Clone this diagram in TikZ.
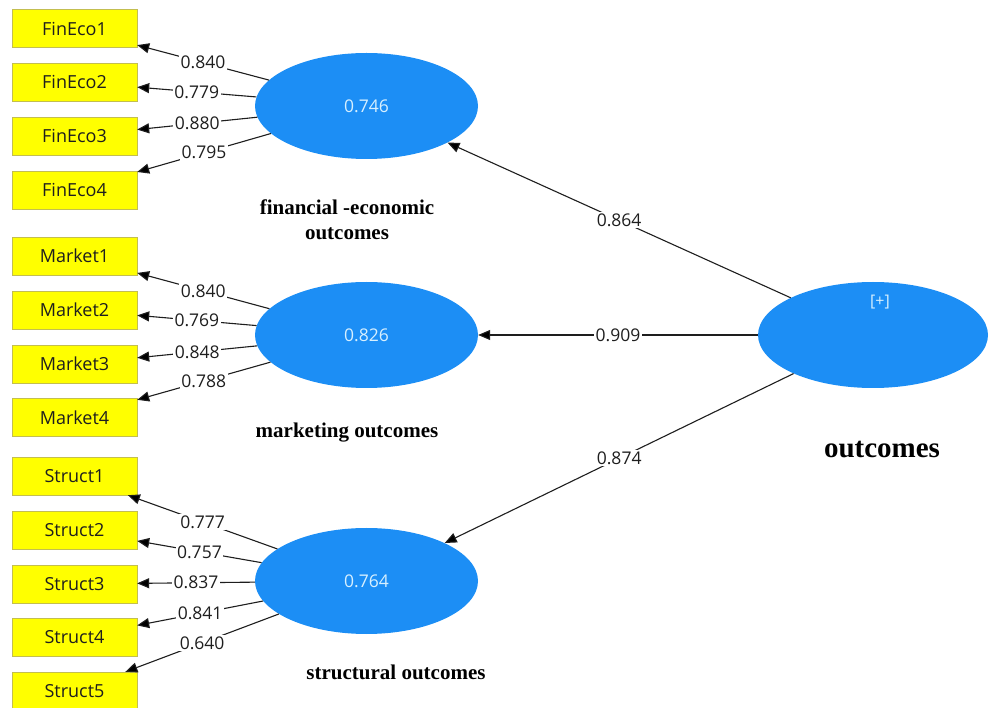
\documentclass[tikz,border=0pt]{standalone}
\usepackage{fontspec}
\setmainfont{Liberation Serif}
\newfontfamily\uifont{Open Sans}
\usetikzlibrary{shapes.geometric,arrows.meta}
\definecolor{lvblue}{RGB}{28,142,245}
\definecolor{boxyellow}{RGB}{255,255,0}
\definecolor{boxedge}{RGB}{195,190,80}
\definecolor{ink}{RGB}{30,30,30}
\definecolor{lvtext}{RGB}{215,240,255}
\begin{document}
\begin{tikzpicture}[x=1pt,y=-1pt,
  ind/.style={draw=boxedge, fill=boxyellow, minimum width=125pt, minimum height=38pt, inner sep=0pt, text=ink, font=\uifont\fontsize{18}{20}\selectfont},
  lv/.style={ellipse, fill=lvblue, minimum width=223pt, minimum height=106pt, inner sep=0pt, text=lvtext, font=\uifont\fontsize{17.5}{20}\selectfont},
  arr/.style={draw=ink, line width=1.1pt, -{Triangle[length=12pt,width=10pt,fill=black]}},
  lbl/.style={fill=white, inner sep=1.5pt, text=ink, font=\uifont\fontsize{17.5}{20}\selectfont},
  lvname/.style={font=\bfseries\fontsize{21}{25}\selectfont, align=center, text=black}]
\useasboundingbox (0,0) rectangle (989,708);
\fill[white] (0,0) rectangle (989,708);

% indicators
\node[ind] (f1) at (74.5,28.5) {FinEco1};
\node[ind] (f2) at (74.5,82) {FinEco2};
\node[ind] (f3) at (74.5,136) {FinEco3};
\node[ind] (f4) at (74.5,190) {FinEco4};
\node[ind] (m1) at (74.5,256) {Market1};
\node[ind] (m2) at (74.5,310) {Market2};
\node[ind] (m3) at (74.5,364) {Market3};
\node[ind] (m4) at (74.5,417.5) {Market4};
\node[ind] (s1) at (74.5,476) {Struct1};
\node[ind] (s2) at (74.5,530) {Struct2};
\node[ind] (s3) at (74.5,584) {Struct3};
\node[ind] (s4) at (74.5,637.5) {Struct4};
\node[ind] (s5) at (74.5,691) {Struct5};

% latent variables
\node[lv] (e1) at (366.5,106) {0.746};
\node[lv] (e2) at (366.5,335) {0.826};
\node[lv] (e3) at (366.5,581) {0.764};
\node[lv, minimum width=230pt] (out) at (873,335) {};
\node[text=lvtext, font=\uifont\fontsize{16}{18}\selectfont] (plus) at (880,302) {[+]};

% names
\node[lvname] (n1) at (347,220) {financial -economic\\outcomes};
\node[lvname] (n2) at (347,433) {marketing outcomes};
\node[lvname] (n3) at (396,672) {structural outcomes};
\node[lvname, font=\bfseries\fontsize{29}{33}\selectfont] (n4) at (882,450) {outcomes};

% outer loadings
\draw[arr] (e1) -- (f1) node[lbl, midway] {0.840};
\draw[arr] (e1) -- (f2) node[lbl, midway] {0.779};
\draw[arr] (e1) -- (f3) node[lbl, midway] {0.880};
\draw[arr] (e1) -- (f4) node[lbl, midway] {0.795};
\draw[arr] (e2) -- (m1) node[lbl, midway] {0.840};
\draw[arr] (e2) -- (m2) node[lbl, midway] {0.769};
\draw[arr] (e2) -- (m3) node[lbl, midway] {0.848};
\draw[arr] (e2) -- (m4) node[lbl, midway] {0.788};
\draw[arr] (e3) -- (s1) node[lbl, midway] {0.777};
\draw[arr] (e3) -- (s2) node[lbl, midway] {0.757};
\draw[arr] (e3) -- (s3) node[lbl, midway] {0.837};
\draw[arr] (e3) -- (s4) node[lbl, midway] {0.841};
\draw[arr] (e3) -- (s5) node[lbl, midway] {0.640};

% path coefficients
\draw[arr] (out) -- (e1) node[lbl, midway] {0.864};
\draw[arr] (out) -- (e2) node[lbl, midway] {0.909};
\draw[arr] (out) -- (e3) node[lbl, midway] {0.874};
\end{tikzpicture}
\end{document}
